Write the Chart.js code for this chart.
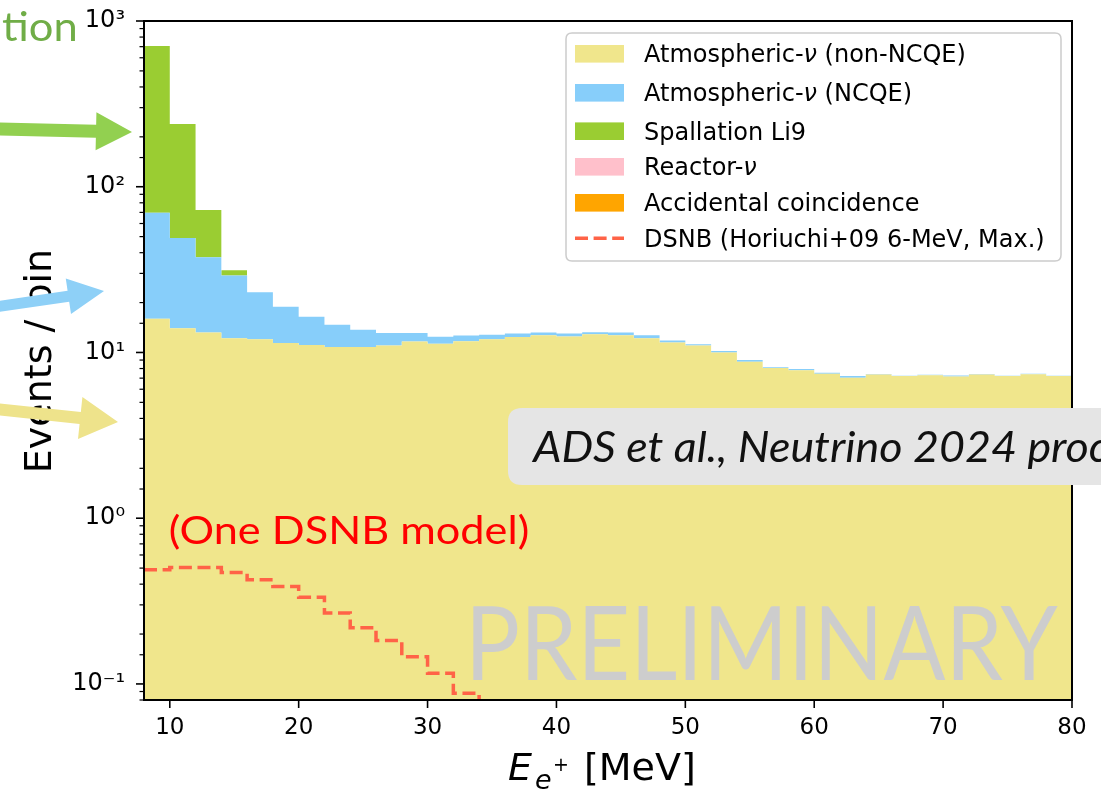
<!DOCTYPE html>
<html><head><meta charset="utf-8">
<script src="https://cdn.jsdelivr.net/npm/chart.js@4/dist/chart.umd.min.js"></script>
<style>html,body{margin:0;padding:0;background:#fff;overflow:hidden}canvas{display:block}</style>
</head><body>
<canvas id="c" width="1101" height="790"></canvas>
<script>
// ---- data ----
const binStart = [8,10,12,14,16,18,20,22,24,26,28,30,32,34,36,38,40,42,44,46,48,50,52,54,56,58,60,62,64,66,68,70,72,74,76,78];
const binEndLast = 80;
const atmNonNCQE = [16.0,14.0,13.2,12.2,12.0,11.4,11.1,10.8,10.8,11.0,11.65,11.3,11.7,12.0,12.4,12.7,12.5,12.9,12.7,12.2,11.5,11.0,10.0,8.8,8.05,7.8,7.45,7.05,7.37,7.2,7.28,7.17,7.37,7.2,7.4,7.2];
const atmNCQE    = [53.7,35.1,24.3,16.9,11.1,7.5,5.3,3.9,2.9,2.1,1.45,1.16,0.94,0.8,0.6,0.5,0.5,0.35,0.5,0.5,0.3,0.2,0.2,0.2,0.1,0.14,0.1,0.15,0.05,0.04,0.05,0.1,0.04,0.04,0.04,0.04];
const spallationLi9 = [637,190,34.9,2.2,0,0,0,0,0,0,0,0,0,0,0,0,0,0,0,0,0,0,0,0,0,0,0,0,0,0,0,0,0,0,0,0];
const reactorNu  = [0.3,0.1,0,0,0,0,0,0,0,0,0,0,0,0,0,0,0,0.15,0,0,0,0,0,0,0,0.1,0,0,0,0,0.05,0,0.05,0,0,0];
const accidental = [0.2,0.2,0.2,0.2,0.2,0.2,0.2,0.2,0.2,0.2,0.2,0.2,0.2,0.2,0.2,0.2,0.2,0.2,0.2,0.2,0.2,0.2,0.2,0.2,0.2,0.2,0.14,0.17,0.16,0.13,0.12,0.18,0.12,0.13,0.14,0.13];
const dsnb = [0.488,0.504,0.504,0.470,0.425,0.387,0.334,0.268,0.218,0.183,0.146,0.116,0.088,0.065,null,null,null,null,null,null,null,null,null,null,null,null,null,null,null,null,null,null,null,null,null,null];
const xTickValues = [10,20,30,40,50,60,70,80];
const yDecades = [0.1,1,10,100,1000];
const yDecadeLabels = ['10\u207B\u00B9','10\u2070','10\u00B9','10\u00B2','10\u00B3'];
const legendLabels = ['Atmospheric-\u03BD (non-NCQE)','Atmospheric-\u03BD (NCQE)','Spallation Li9','Reactor-\u03BD','Accidental coincidence','DSNB (Horiuchi+09 6-MeV, Max.)'];
const seriesColors = ['#F0E68C','#87CEFA','#9ACD32','#FFC0CB','#FFA500','#FF6347'];

// each bin value applies to [binStart, next edge): first point duplicated at the low edge
function stepPoints(vals){
  const pts = [{x:binStart[0], y:vals[0]}];
  binStart.forEach((x,i)=>{ pts.push({x:(i+1<binStart.length?binStart[i+1]:binEndLast), y:vals[i]}); });
  return pts;
}
const stackSeries = [atmNonNCQE, atmNCQE, spallationLi9, reactorNu, accidental];
const datasets = stackSeries.map((vals,i)=>({
  label: legendLabels[i], data: stepPoints(vals), stepped:'after',
  fill: i===0 ? 'start' : '-1', backgroundColor: seriesColors[i],
  borderColor:'rgba(0,0,0,0)', borderWidth:0, pointRadius:0, stack:'bg'
}));
datasets.push({
  label: legendLabels[5], data: stepPoints(dsnb), stepped:'after', fill:false,
  borderColor: seriesColors[5], borderWidth:3.5, borderDash:[13,5.6], pointRadius:0,
  stack:'sig', order:-1, spanGaps:false
});

function isDecade(v){ const l=Math.log10(v); return Math.abs(l-Math.round(l))<1e-6; }

function roundRect(ctx,x,y,w,h,r){
  ctx.beginPath(); ctx.moveTo(x+r,y); ctx.lineTo(x+w-r,y); ctx.quadraticCurveTo(x+w,y,x+w,y+r);
  ctx.lineTo(x+w,y+h-r); ctx.quadraticCurveTo(x+w,y+h,x+w-r,y+h); ctx.lineTo(x+r,y+h);
  ctx.quadraticCurveTo(x,y+h,x,y+h-r); ctx.lineTo(x,y+r); ctx.quadraticCurveTo(x,y,x+r,y); ctx.closePath();
}
function drawFitted(ctx, text, o){
  const size = o.capH / o.capRatio;
  ctx.font = (o.style||'normal')+' '+(o.weight||400)+' '+size+'px '+o.family;
  const m = ctx.measureText(o.measure||text);
  const ink = m.actualBoundingBoxRight + m.actualBoundingBoxLeft;
  const sx = o.width / ink;
  ctx.save(); ctx.translate(o.left, o.baseline); ctx.scale(sx,1);
  ctx.fillStyle=o.color; ctx.textBaseline='alphabetic'; ctx.textAlign='left';
  ctx.fillText(text, m.actualBoundingBoxLeft, 0); ctx.restore();
}
function arrow(ctx,x0,y0,x1,y1,sw,hl,hw,color){
  const a=Math.atan2(y1-y0,x1-x0), L=Math.hypot(x1-x0,y1-y0);
  ctx.save(); ctx.translate(x0,y0); ctx.rotate(a); ctx.fillStyle=color;
  ctx.beginPath(); ctx.moveTo(0,-sw/2); ctx.lineTo(L-hl,-sw/2); ctx.lineTo(L-hl,-hw/2); ctx.lineTo(L,0);
  ctx.lineTo(L-hl,hw/2); ctx.lineTo(L-hl,sw/2); ctx.lineTo(0,sw/2); ctx.closePath(); ctx.fill(); ctx.restore();
}
function drawRich(ctx, label, x, y, size){
  const parts = label.split('\u03BD'); let cx=x;
  parts.forEach((p,i)=>{
    ctx.font = size+'px "DejaVu Sans"'; ctx.fillText(p,cx,y); cx+=ctx.measureText(p).width;
    if(i<parts.length-1){ ctx.font='italic '+size+'px "DejaVu Sans"'; ctx.fillText('\u03BD',cx,y); cx+=ctx.measureText('\u03BD').width; }
  });
}

const extras = {
  id:'extras',
  afterDraw(chart){
    const ctx=chart.ctx, ca=chart.chartArea, xs=chart.scales.x, ys=chart.scales.y;
    ctx.save();
    // annotations inside plot
    drawFitted(ctx,'(One DSNB model)',{family:'Lato',capRatio:0.7165,capH:27,left:170,baseline:544,width:358,color:'#FF0000'});
    drawFitted(ctx,'PRELIMINARY',{family:'Lato',weight:400,capRatio:0.7165,capH:73,left:473,baseline:680,width:585,color:'rgb(205,205,205)'});
    // spines
    ctx.strokeStyle='#000'; ctx.lineWidth=2;
    ctx.strokeRect(ca.left,ca.top,ca.right-ca.left,ca.bottom-ca.top);
    // y ticks
    ys.ticks.forEach(t=>{
      const py=ys.getPixelForValue(t.value); const maj=isDecade(t.value);
      ctx.lineWidth=maj?1.6:1.2; ctx.beginPath(); ctx.moveTo(ca.left,py); ctx.lineTo(ca.left-(maj?8:4.5),py); ctx.stroke();
    });
    xTickValues.forEach(v=>{
      const px=xs.getPixelForValue(v); ctx.lineWidth=1.6; ctx.beginPath(); ctx.moveTo(px,ca.bottom); ctx.lineTo(px,ca.bottom+8); ctx.stroke();
    });
    // citation box
    ctx.fillStyle='#E5E5E5'; roundRect(ctx,508,408,640,77,14); ctx.fill();
    drawFitted(ctx,'ADS et al., Neutrino 2024 proc',{family:'Lato',style:'italic',capRatio:0.7165,capH:30,left:531,baseline:462,width:556,measure:'ADS et al., Neutrino 2024 pro',color:'#111'});
    // legend
    ctx.fillStyle='rgba(255,255,255,0.8)'; ctx.strokeStyle='#CCCCCC'; ctx.lineWidth=1.5;
    roundRect(ctx,566,33,495,228,6); ctx.fill(); ctx.stroke();
    const rows=[53.8,92.8,131.2,166.8,202.8,238.3];
    rows.forEach((cy,i)=>{
      if(i<5){ ctx.fillStyle=seriesColors[i]; ctx.fillRect(575,cy-8.8,49,17.6); }
      else { ctx.strokeStyle=seriesColors[5]; ctx.lineWidth=3.5; ctx.setLineDash([13,5.6]); ctx.beginPath(); ctx.moveTo(575,cy); ctx.lineTo(624,cy); ctx.stroke(); ctx.setLineDash([]); }
      ctx.fillStyle='#000'; ctx.textBaseline='alphabetic'; ctx.textAlign='left';
      drawRich(ctx,legendLabels[i],644,cy+8.6,24);
    });
    // axis titles
    ctx.fillStyle='#000'; ctx.textBaseline='alphabetic';
    ctx.save(); ctx.translate(51,361); ctx.rotate(-Math.PI/2); ctx.textAlign='center';
    ctx.font='38px "DejaVu Sans"'; ctx.fillText('Events / bin',0,0); ctx.restore();
    ctx.textAlign='left';
    ctx.font='italic 38px "DejaVu Sans"'; ctx.fillText('E',508,780);
    ctx.font='italic 27px "DejaVu Sans"'; ctx.fillText('e',535,789);
    ctx.font='19px "DejaVu Sans"'; ctx.fillText('+',553,771);
    ctx.font='38px "DejaVu Sans"'; ctx.fillText('[MeV]',584,780);
    // slide overlays
    drawFitted(ctx,'tion',{family:'Lato',capRatio:0.7165,capH:29,left:2,baseline:41,width:73,color:'#70AD47'});
    arrow(ctx,-5,129,132,132,13,36,38,'#92D050');
    arrow(ctx,-5,307,104,291,11,36,36,'#8ED0F7');
    arrow(ctx,-5,409,118,422,12,38,42,'#EEE38B');
    ctx.restore();
  }
};

new Chart(document.getElementById('c'),{
  type:'line',
  data:{datasets:datasets},
  options:{
    responsive:false, animation:false, devicePixelRatio:1,
    layout:{padding:{left:0,top:21,right:29,bottom:0}},
    plugins:{legend:{display:false},tooltip:{enabled:false}},
    scales:{
      x:{type:'linear',min:8,max:80,
        afterBuildTicks:s=>{s.ticks=xTickValues.map(v=>({value:v}));},
        afterFit:s=>{s.height=90; s.paddingLeft=0; s.paddingRight=0;},
        grid:{display:false,drawTicks:false},border:{display:false},
        ticks:{font:{family:'DejaVu Sans',size:23},color:'#000',padding:14,maxRotation:0,autoSkip:false}},
      y:{type:'logarithmic',min:0.08,max:1000,stacked:true,
        afterFit:s=>{s.width=144; s.paddingTop=0; s.paddingBottom=0;},
        grid:{display:false,drawTicks:false},border:{display:false},
        ticks:{font:{family:'DejaVu Sans',size:24},color:'#000',padding:19,autoSkip:false,
          callback:(v)=>{const k=yDecades.findIndex(d=>Math.abs(d-v)/d<1e-6); return k>=0?yDecadeLabels[k]:'';}}}
    }
  },
  plugins:[extras]
});
</script>
</body></html>
